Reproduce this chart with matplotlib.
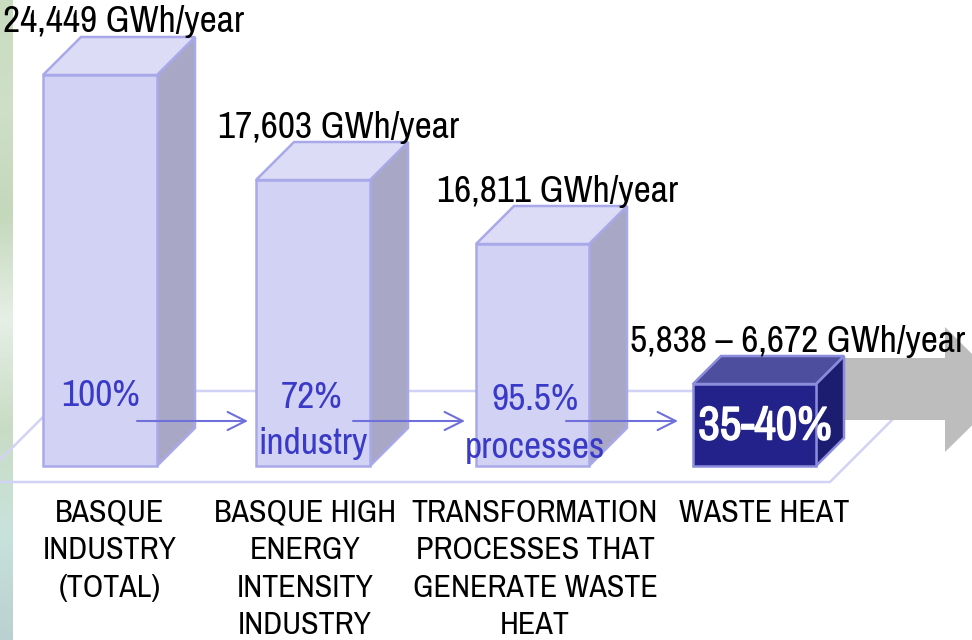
import numpy as np
import matplotlib
matplotlib.use('Agg')
import matplotlib.pyplot as plt
import matplotlib.patheffects as pe
from matplotlib.patches import Polygon
from matplotlib.colors import LinearSegmentedColormap

plt.rcParams['font.family'] = ['Archivo Narrow', 'Liberation Sans', 'DejaVu Sans']

# picture units
bar_left = [43, 256, 476, 693]
bar_right = [157, 370, 589, 816]
bar_top = [75, 180, 244, 384]
bar_depth = [38, 38, 38, 28]
baseline = 466

totals = ['24,449 GWh/year', '17,603 GWh/year', '16,811 GWh/year', '5,838 – 6,672 GWh/year']
total_x = [3, 218, 437, 630]
total_y = [22, 127, 192, 341]

shares = ['100%', '72%', '95.5%']
share_x = [101, 312, 535]
share_y = [395, 397, 400]
subs = ['', 'industry', 'processes']
sub_x = [0, 313, 535]
sub_y = [0, 443, 448]

names = ['BASQUE\nINDUSTRY\n(TOTAL)', 'BASQUE HIGH\nENERGY\nINTENSITY\nINDUSTRY',
         'TRANSFORMATION\nPROCESSES THAT\nGENERATE WASTE\nHEAT', 'WASTE HEAT']
name_x = [110, 305, 535, 764]

arrow_from = [137, 353, 566]
arrow_to = [248, 465, 678]

stripe_colors = ['#c9dcc0', '#cfdfc8', '#c4d8bc', '#e6efe6', '#c9dcc4', '#c8e2dc', '#b9d1d0']

fig = plt.figure(figsize=(9.72, 6.4), dpi=100)
ax = fig.add_axes([0, 0, 1, 1])
ax.set_xlim(0, 972)
ax.set_ylim(640, 0)
ax.axis('off')

# left background strip
cmap = LinearSegmentedColormap.from_list('strip', stripe_colors)
ax.imshow(np.linspace(0, 1, 200).reshape(-1, 1), cmap=cmap, extent=[0, 12, 640, 0],
          aspect='auto', zorder=0)
ax.set_xlim(0, 972)
ax.set_ylim(640, 0)

# floor
floor = Polygon([(-22, 482), (830, 482), (921, 391), (69, 391)], closed=True, fill=False,
                edgecolor='#d2d2f6', lw=1.8, zorder=1)
ax.add_patch(floor)

# big grey arrow
ax.add_patch(Polygon([(845, 358), (945, 358), (945, 327), (1008, 390), (945, 452), (945, 420), (845, 420)],
                     closed=True, facecolor='#bdbdbd', edgecolor='none', zorder=2))

for i in range(4):
    l, r, t, d = bar_left[i], bar_right[i], bar_top[i], bar_depth[i]
    if i == 3:
        front, top, side, edge = '#22228a', '#4e4e9e', '#1c1c70', '#8c8cdd'
    else:
        front, top, side, edge = '#d2d2f4', '#dcdcf7', '#a8a8c6', '#a9a9ea'
    ax.add_patch(Polygon([(r, t), (r + d, t - d), (r + d, baseline - d), (r, baseline)],
                         facecolor=side, edgecolor=edge, lw=1.8, zorder=3))
    ax.add_patch(Polygon([(l, t), (l + d, t - d), (r + d, t - d), (r, t)],
                         facecolor=top, edgecolor=edge, lw=1.8, zorder=3))
    ax.add_patch(Polygon([(l, t), (r, t), (r, baseline), (l, baseline)],
                         facecolor=front, edgecolor=edge, lw=1.8, zorder=3))

for i in range(4):
    ax.text(total_x[i], total_y[i], totals[i], fontsize=27, color='black', ha='left', va='center', zorder=6)
    ax.text(name_x[i], 498.5, names[i], fontsize=23, color='black', ha='center', va='top',
            linespacing=1.42, zorder=6)

for i in range(3):
    ax.text(share_x[i], share_y[i], shares[i], fontsize=27, color='#3a3ac8', ha='center', va='center', zorder=5)
    if subs[i]:
        ax.text(sub_x[i], sub_y[i], subs[i], fontsize=27, color='#3a3ac8', ha='center', va='center', zorder=5)
    ax.annotate('', xy=(arrow_to[i], 421), xytext=(arrow_from[i], 421), zorder=5,
                arrowprops=dict(arrowstyle='->,head_length=1.3,head_width=0.65', color='#7070dc', lw=1.5,
                                shrinkA=0, shrinkB=0))

# the narrow font has no bold cut here, so thicken it with a stroke
ax.text(765, 426, '35-40%', fontsize=34, color='white', ha='center', va='center', zorder=6,
        path_effects=[pe.withStroke(linewidth=1.1, foreground='white')])

fig.savefig('out.png', dpi=100)
